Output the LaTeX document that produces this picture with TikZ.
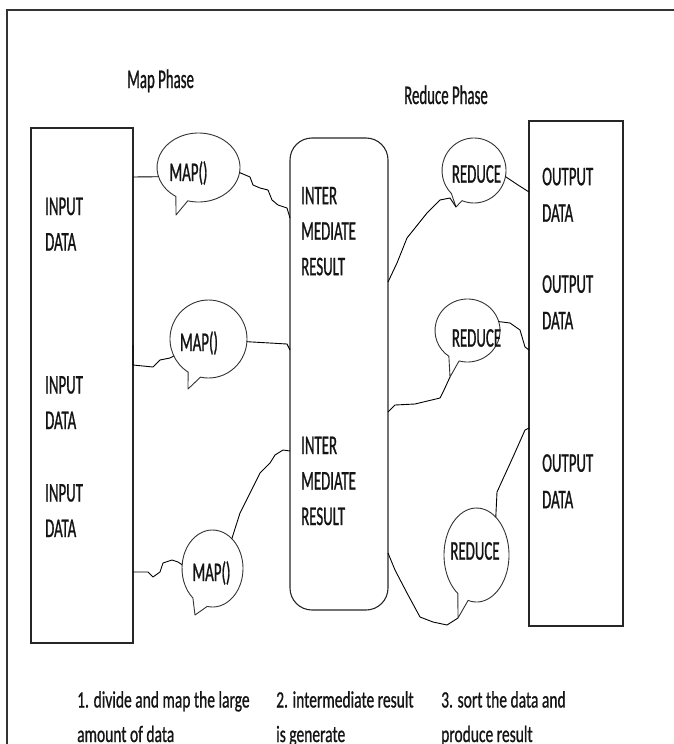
\documentclass[tikz,border=0pt]{standalone}
\usepackage{fontspec}
\usetikzlibrary{shapes.geometric,calc}
\newfontfamily\cf[FakeStretch=0.55,FakeBold=0.8]{Carlito}
\newfontfamily\cfn[FakeStretch=0.66,FakeBold=0.8]{Carlito}
\newcommand{\speech}[6]{\draw[bline] ($(#1.center)+(#5:#2pt and #3pt)$) arc[start angle=#5, end angle=#4+360, x radius=#2pt, y radius=#3pt] -- #6 -- cycle;}
\begin{document}
\begin{tikzpicture}[x=1pt,y=-1pt,
  box/.style={draw=black!85, line width=1.1pt, inner sep=0pt, outer sep=0pt, anchor=north west},
  bub/.style={ellipse, draw=none, inner sep=0pt, outer sep=0pt},
  bline/.style={draw=black!80, line width=0.9pt, line join=round},
  wire/.style={draw=black, line width=0.9pt, line join=round},
  txt/.style={font=\cf\fontsize{27}{35.5}\selectfont, align=left, inner sep=0pt, anchor=north west, text=black!92},
  hdr/.style={font=\cf\fontsize{27}{35}\selectfont, inner sep=0pt, anchor=base west, text=black!92},
  lbl/.style={font=\cf\fontsize{27}{35}\selectfont, inner sep=0pt, text=black!92},
  note/.style={font=\cfn\fontsize{23.5}{30}\selectfont, inner sep=0pt, anchor=base west, text=black!92}]
\useasboundingbox (0,0) rectangle (674,744);
% frame
\draw[black!80, line width=2pt] (7,760) -- (7,10) -- (690,10);
% headers
\node[hdr] (hmap) at (127,88) {Map Phase};
\node[hdr] (hred) at (404,104) {Reduce Phase};
% boxes
\node[box, minimum width=102pt, minimum height=515pt] (in) at (31,128) {};
\node[box, rounded corners=22pt, minimum width=98pt, minimum height=472pt] (im) at (290,138) {};
\node[box, minimum width=94pt, minimum height=505pt] (out) at (529,121) {};
% box texts
\node[txt] (in1) at (45,197.5) {INPUT\\DATA};
\node[txt] (in2) at (45,376) {INPUT\\DATA};
\node[txt] (in3) at (45,484) {INPUT\\DATA};
\node[txt] (im1) at (301,186.7) {INTER\\MEDIATE\\RESULT};
\node[txt] (im2) at (301,436.5) {INTER\\MEDIATE\\RESULT};
\node[txt, font=\cf\fontsize{27}{36.5}\selectfont] (out1) at (542,167.5) {OUTPUT\\DATA};
\node[txt, font=\cf\fontsize{27}{36.5}\selectfont] (out2) at (542,275) {OUTPUT\\DATA};
\node[txt, font=\cf\fontsize{27}{36.5}\selectfont] (out3) at (542,454) {OUTPUT\\DATA};
% bubbles
\node[bub, minimum width=83pt, minimum height=69pt] (m1) at (198.5,167.5) {};
\node[bub, minimum width=77pt, minimum height=78pt] (m2) at (208.5,339) {};
\node[bub, minimum width=61pt, minimum height=77pt] (m3) at (212.5,568.5) {};
\node[bub, minimum width=64pt, minimum height=65pt] (r1) at (474,170.5) {};
\node[bub, minimum width=65pt, minimum height=63pt] (r2) at (467.5,330.5) {};
\node[bub, minimum width=65pt, minimum height=94pt] (r3) at (476.5,555) {};
\coordinate (m1tip) at (176,215);
\coordinate (m2tip) at (188,389);
\coordinate (m3tip) at (195,615);
\coordinate (r1tip) at (456,207);
\coordinate (r2tip) at (450,377);
\coordinate (r3tip) at (458,618);
\speech{m1}{41.5}{34.5}{237}{255}{(m1tip)}
\speech{m2}{38.5}{39}{238}{258}{(m2tip)}
\speech{m3}{30.5}{38.5}{230}{260}{(m3tip)}
\speech{r1}{32}{32.5}{225}{248}{(r1tip)}
\speech{r2}{32.5}{31.5}{235}{255}{(r2tip)}
\speech{r3}{32.5}{47}{235}{255}{(r3tip)}
\node[lbl] (m1t) at (188.5,173) {MAP()};
\node[lbl] (m2t) at (199,343) {MAP()};
\node[lbl] (m3t) at (211.5,573) {MAP()};
\node[lbl] (r1t) at (476.5,174) {REDUCE};
\node[lbl] (r2t) at (476.5,338) {REDUCE};
\node[lbl] (r3t) at (475,551) {REDUCE};
% connectors: map side
\draw[wire] ($(in.north east)+(0,49)$) -- (m1.193);
\draw[wire] (m1.-7) -- (250,177) -- (253,185) -- (260,188) -- (268,190) -- (272,200) -- (278,205) -- (287,208) -- ($(im.north west)+(0,80)$);
\draw[wire] ($(in.north east)+(0,217)$) -- ($(in.north east)+(0,237)$) -- (153,367) -- (160,360) -- (170,358) -- (m2.206);
\draw[wire] (m2.-4) -- (287,344) -- ($(im.north west)+(0,212)$);
\draw[wire] ($(in.north east)+(0,444)$) -- (148,572) -- (153,577) -- (160,572) -- (163,563) -- (172,560) -- (178,562) -- (m3.173);
\draw[wire] (m3.57) -- (240,513) -- (253,487) -- (260,473) -- (270,463) -- (275,455) -- (283,450) -- ($(im.north west)+(0,313)$);
% connectors: reduce side
\draw[wire] ($(im.north east)+(0,144)$) -- (397,263) -- (407,238) -- (415,228) -- (427,213) -- (440,200) -- (450,198) -- (r1tip);
\draw[wire] (r1.-11) -- (518,185) -- ($(out.north west)+(0,71)$);
\draw[wire] ($(im.north east)+(0,274)$) -- (395,405) -- (415,404) -- (440,398) -- (444,390) -- (r2tip);
\draw[wire] (r2.16) -- (510,323) -- (520,330) -- (525,347) -- ($(out.north west)+(0,229)$);
\draw[wire] ($(im.north east)+(0,415)$) -- (395,570) -- (407,593) -- (420,617) -- (433,622) -- (447,625) -- (r3tip);
\draw[wire] (r3.63) -- (497,492) -- (513,457) -- (525,430) -- ($(out.north west)+(0,307)$);
% notes
\node[note] (n1a) at (77,707.5) {1. divide and map the large};
\node[note] (n1b) at (77,742) {amount of data};
\node[note] (n2a) at (276,707.5) {2. intermediate result};
\node[note] (n2b) at (276,742) {is generate};
\node[note] (n3a) at (441,707.5) {3. sort the data and};
\node[note] (n3b) at (441,742) {produce result};
\end{tikzpicture}
\end{document}
